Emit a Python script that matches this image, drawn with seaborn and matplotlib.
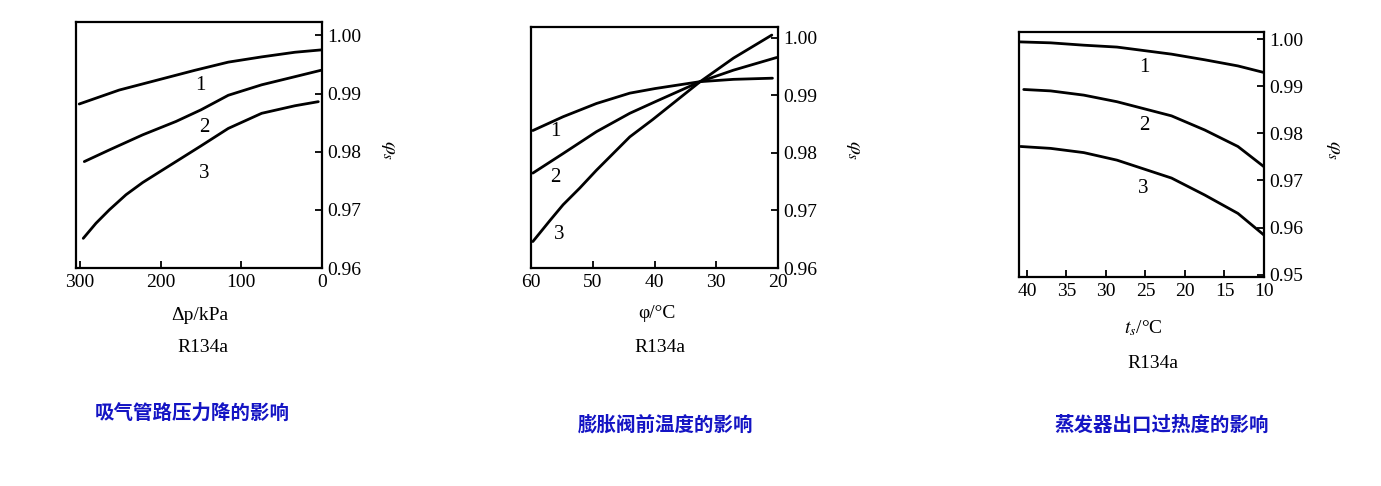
import matplotlib
matplotlib.use("Agg")
import matplotlib.pyplot as plt
import pandas as pd
import seaborn as sns

# 吸气管路压力降 (Δp/kPa)
dp_x1 = [301, 251.4, 157.5, 116.2, 74.8, 33.5, 1.2]
dp_y1 = [0.9882, 0.9906, 0.9940, 0.9954, 0.9963, 0.9971, 0.9975]
dp_x2 = [294.7, 263.7, 222.3, 181, 150, 116.2, 74.8, 33.5, 1.2]
dp_y2 = [0.9783, 0.9803, 0.9829, 0.9852, 0.9872, 0.9897, 0.9915, 0.9929, 0.9940]
dp_x3 = [296, 280.2, 263.7, 243, 222.3, 201.7, 181, 150, 116.2, 74.8, 33.5, 4.6]
dp_y3 = [0.9651, 0.9677, 0.9700, 0.9726, 0.9747, 0.9765, 0.9783, 0.9810,
         0.9840, 0.9866, 0.9879, 0.9886]

# 膨胀阀前温度 (φ/°C)
tv_x1 = [59.7, 54.8, 49.4, 44.0, 39.9, 32.6, 27.2, 20.9]
tv_y1 = [0.9839, 0.9863, 0.9886, 0.9904, 0.9912, 0.9924, 0.9928, 0.9930]
tv_x2 = [59.7, 54.8, 49.4, 44.0, 39.9, 32.6, 27.2, 20.2]
tv_y2 = [0.9765, 0.9799, 0.9837, 0.9869, 0.9889, 0.9924, 0.9944, 0.9966]
tv_x3 = [59.7, 56.9, 54.8, 52.1, 49.4, 46.7, 44.0, 40.3, 32.6, 27.2, 21.0]
tv_y3 = [0.9646, 0.9683, 0.9710, 0.9739, 0.9770, 0.9799, 0.9828, 0.9858,
         0.9924, 0.9965, 1.0005]

# 蒸发器出口过热度 (ts/°C)
sh_x1 = [40.9, 37.0, 32.8, 28.6, 21.7, 17.5, 13.3, 10]
sh_y1 = [0.9994, 0.9992, 0.9987, 0.9983, 0.9968, 0.9956, 0.9943, 0.9929]
sh_x2 = [40.4, 37.0, 32.8, 28.6, 21.7, 17.5, 13.3, 10]
sh_y2 = [0.9893, 0.9890, 0.9881, 0.9867, 0.9837, 0.9807, 0.9772, 0.9729]
sh_x3 = [40.8, 37.0, 32.8, 28.6, 21.7, 17.5, 13.3, 10]
sh_y3 = [0.9772, 0.9768, 0.9759, 0.9743, 0.9705, 0.9669, 0.9630, 0.9584]

curve_names = ["1", "2", "3"]

panels = [
    dict(curves=[(dp_x1, dp_y1), (dp_x2, dp_y2), (dp_x3, dp_y3)],
         label_xy=[(151, 0.9914), (146, 0.9842), (146, 0.9763)],
         xlim=(305, 0), ylim=(0.96, 1.0023),
         xticks=[300, 200, 100, 0], yticks=[0.96, 0.97, 0.98, 0.99, 1.00],
         box=(76, 322, 22, 268),
         xlabel="Δp/kPa", xlabel_xy=(200, 315), r_xy=(203, 347),
         ylabel_xy=(388, 150),
         caption="吸气管路压力降的影响", caption_xy=(192, 413)),
    dict(curves=[(tv_x1, tv_y1), (tv_x2, tv_y2), (tv_x3, tv_y3)],
         label_xy=[(56, 0.9837), (56, 0.9758), (55.5, 0.9659)],
         xlim=(60, 20), ylim=(0.96, 1.0019),
         xticks=[60, 50, 40, 30, 20], yticks=[0.96, 0.97, 0.98, 0.99, 1.00],
         box=(531, 778, 27, 268),
         xlabel="φ/°C", xlabel_xy=(657, 314), r_xy=(660, 347),
         ylabel_xy=(853, 150),
         caption="膨胀阀前温度的影响", caption_xy=(666, 425)),
    dict(curves=[(sh_x1, sh_y1), (sh_x2, sh_y2), (sh_x3, sh_y3)],
         label_xy=[(25.1, 0.9939), (25.1, 0.9817), (25.3, 0.9682)],
         xlim=(41, 10), ylim=(0.9495, 1.0015),
         xticks=[40, 35, 30, 25, 20, 15, 10],
         yticks=[0.95, 0.96, 0.97, 0.98, 0.99, 1.00],
         box=(1019, 1264, 32, 277),
         xlabel="$t_s$/°C", xlabel_xy=(1143, 328), r_xy=(1153, 363),
         ylabel_xy=(1333, 150),
         caption="蒸发器出口过热度的影响", caption_xy=(1162, 425)),
]

sns.set_style("ticks")
plt.rcParams["font.family"] = ["Liberation Serif", "Noto Sans CJK SC", "DejaVu Sans"]
plt.rcParams["mathtext.fontset"] = "stix"
plt.rcParams["text.color"] = "black"

W, H = 1381, 486
fig = plt.figure(figsize=(W / 100, H / 100), dpi=100)


def fx(px):
    return px / W


def fy(py):
    return 1 - py / H


for p in panels:
    l, r, t, b = p["box"]
    ax = fig.add_axes([fx(l), fy(b), (r - l) / W, (b - t) / H])
    rows = []
    for name, (xs, ys) in zip(curve_names, p["curves"]):
        for xv, yv in zip(xs, ys):
            rows.append({"x": xv, "y": yv, "curve": name})
    df = pd.DataFrame(rows)
    sns.lineplot(data=df, x="x", y="y", units="curve", estimator=None,
                 color="black", lw=2.0, sort=False, ax=ax)
    for name, (lx, ly) in zip(curve_names, p["label_xy"]):
        ax.text(lx, ly, name, fontsize=15, ha="center", va="center", color="black")
    ax.set_xlim(*p["xlim"])
    ax.set_ylim(*p["ylim"])
    ax.set_xticks(p["xticks"])
    ax.set_yticks(p["yticks"])
    ax.set_xticklabels([str(v) for v in p["xticks"]])
    ax.set_yticklabels([f"{v:.2f}" for v in p["yticks"]])
    ax.yaxis.tick_right()
    ax.tick_params(direction="in", length=5, width=1.3, labelsize=14,
                   colors="black", pad=4)
    ax.set_xlabel("")
    ax.set_ylabel("")
    for s in ax.spines.values():
        s.set_linewidth(1.6)
        s.set_color("black")
    fig.text(fx(p["xlabel_xy"][0]), fy(p["xlabel_xy"][1]), p["xlabel"],
             fontsize=14, ha="center", va="center")
    fig.text(fx(p["r_xy"][0]), fy(p["r_xy"][1]), "R134a",
             fontsize=14, ha="center", va="center")
    fig.text(fx(p["ylabel_xy"][0]), fy(p["ylabel_xy"][1]), "$\\varphi_s$",
             fontsize=15, ha="center", va="center", rotation=270)
    fig.text(fx(p["caption_xy"][0]), fy(p["caption_xy"][1]), p["caption"],
             fontsize=14, ha="center", va="center", color="#1414c4",
             family=["Noto Sans CJK SC", "DejaVu Sans"], fontweight="bold")

fig.savefig("out.png", dpi=100, facecolor="white")
